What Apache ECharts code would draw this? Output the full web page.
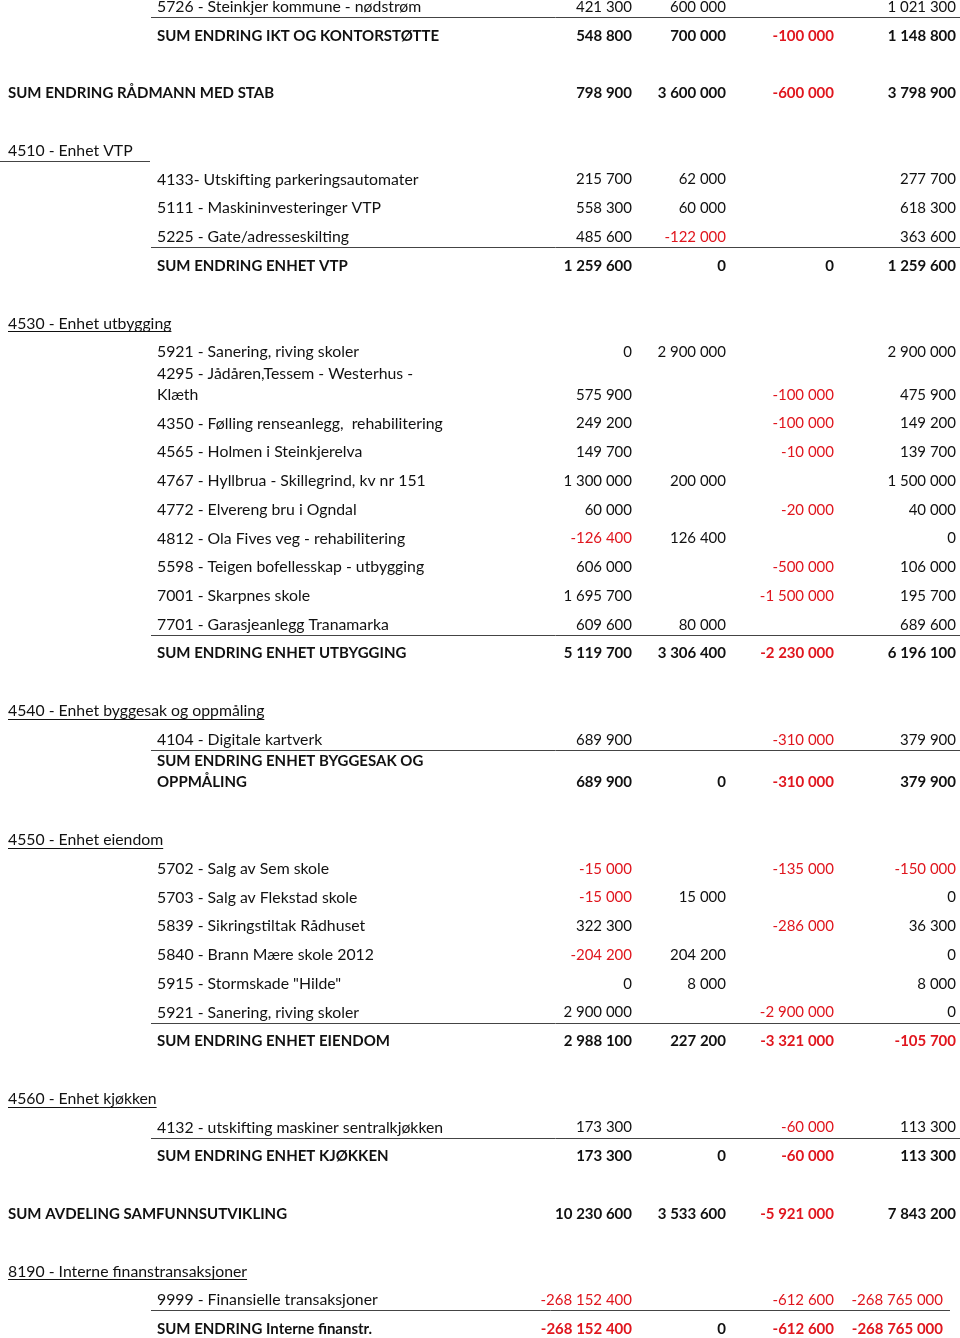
<!DOCTYPE html>
<html>
<head>
<meta charset="utf-8">
<title>Investeringer - endringer</title>
<script src="https://cdn.jsdelivr.net/npm/echarts@6/dist/echarts.min.js"></script>
<style>
  html, body { margin: 0; padding: 0; background: #fff; }
  #main { width: 960px; height: 1338px; }
</style>
</head>
<body>
<div id="main"></div>
<script>
// tabellrader, "" = tom rad
var rowLabels = [
  "5726 - Steinkjer kommune - nødstrøm",
  "SUM ENDRING IKT OG KONTORSTØTTE",
  "",
  "SUM ENDRING RÅDMANN MED STAB",
  "",
  "4510 - Enhet VTP",
  "4133- Utskifting parkeringsautomater",
  "5111 - Maskininvesteringer VTP",
  "5225 - Gate/adresseskilting",
  "SUM ENDRING ENHET VTP",
  "",
  "4530 - Enhet utbygging",
  "5921 - Sanering, riving skoler",
  "4295 - Jådåren,Tessem - Westerhus -\nKlæth",
  "4350 - Følling renseanlegg,  rehabilitering",
  "4565 - Holmen i Steinkjerelva",
  "4767 - Hyllbrua - Skillegrind, kv nr 151",
  "4772 - Elvereng bru i Ogndal",
  "4812 - Ola Fives veg - rehabilitering",
  "5598 - Teigen bofellesskap - utbygging",
  "7001 - Skarpnes skole",
  "7701 - Garasjeanlegg Tranamarka",
  "SUM ENDRING ENHET UTBYGGING",
  "",
  "4540 - Enhet byggesak og oppmåling",
  "4104 - Digitale kartverk",
  "SUM ENDRING ENHET BYGGESAK OG\nOPPMÅLING",
  "",
  "4550 - Enhet eiendom",
  "5702 - Salg av Sem skole",
  "5703 - Salg av Flekstad skole",
  "5839 - Sikringstiltak Rådhuset",
  "5840 - Brann Mære skole 2012",
  "5915 - Stormskade \"Hilde\"",
  "5921 - Sanering, riving skoler",
  "SUM ENDRING ENHET EIENDOM",
  "",
  "4560 - Enhet kjøkken",
  "4132 - utskifting maskiner sentralkjøkken",
  "SUM ENDRING ENHET KJØKKEN",
  "",
  "SUM AVDELING SAMFUNNSUTVIKLING",
  "",
  "8190 - Interne finanstransaksjoner",
  "9999 - Finansielle transaksjoner",
  "SUM ENDRING Interne finanstr."
];

// radtype: item, itemLine (strek under), sum, total, group, groupLine, blank
var rowKind = [
  "itemLine", "sum", "blank", "total", "blank",
  "groupLine", "item", "item", "itemLine", "sum", "blank",
  "group", "item", "item", "item", "item", "item", "item", "item", "item", "item", "itemLine", "sum", "blank",
  "group", "itemLine", "sum", "blank",
  "group", "item", "item", "item", "item", "item", "itemLine", "sum", "blank",
  "group", "itemLine", "sum", "blank",
  "total", "blank",
  "group", "itemLine", "sum"
];

var col1 = [
  421300, 548800, null, 798900, null,
  null, 215700, 558300, 485600, 1259600, null,
  null, 0, 575900, 249200, 149700, 1300000, 60000, -126400, 606000, 1695700, 609600, 5119700, null,
  null, 689900, 689900, null,
  null, -15000, -15000, 322300, -204200, 0, 2900000, 2988100, null,
  null, 173300, 173300, null,
  10230600, null,
  null, -268152400, -268152400
];

var col2 = [
  600000, 700000, null, 3600000, null,
  null, 62000, 60000, -122000, 0, null,
  null, 2900000, null, null, null, 200000, null, 126400, null, null, 80000, 3306400, null,
  null, null, 0, null,
  null, null, 15000, null, 204200, 8000, null, 227200, null,
  null, null, 0, null,
  3533600, null,
  null, null, 0
];

var col3 = [
  null, -100000, null, -600000, null,
  null, null, null, null, 0, null,
  null, null, -100000, -100000, -10000, null, -20000, null, -500000, -1500000, null, -2230000, null,
  null, -310000, -310000, null,
  null, -135000, null, -286000, null, null, -2900000, -3321000, null,
  null, -60000, -60000, null,
  -5921000, null,
  null, -612600, -612600
];

var col4 = [
  1021300, 1148800, null, 3798900, null,
  null, 277700, 618300, 363600, 1259600, null,
  null, 2900000, 475900, 149200, 139700, 1500000, 40000, 0, 106000, 195700, 689600, 6196100, null,
  null, 379900, 379900, null,
  null, -150000, 0, 36300, 0, 8000, 0, -105700, null,
  null, 113300, 113300, null,
  7843200, null,
  null, -268765000, -268765000
];

var columns = [col1, col2, col3, col4];
var colRight = [632, 726, 834, 956];

var FONT_FAMILY = "Lato, 'Liberation Sans', sans-serif";
var BLACK = "#111";
var RED = "#e0161e";
var RULE = "#444";
var LINE_H = 21;        // linjeavstand i en brutt celle
var WRAP_EXTRA = 0.48;  // ekstra radhøyde per ekstra linje (i rader)

// radposisjon: hver rad er 1 enhet, brutte rader litt høyere
var rowPos = [];
rowLabels.forEach(function (l, i) {
  var lines = l.split("\n").length;
  var prev = i === 0 ? -1 : rowPos[i - 1];
  rowPos.push(prev + 1 + (lines - 1) * WRAP_EXTRA);
});

var measureCtx = document.createElement("canvas").getContext("2d");
function textWidth(text, font) {
  measureCtx.font = font;
  return measureCtx.measureText(text).width;
}

function fmt(v) {
  if (v === null || v === undefined) return "";
  var s = String(Math.abs(v)).replace(/\B(?=(\d{3})+(?!\d))/g, " ");
  return (v < 0 ? "-" : "") + s;
}

function renderRow(params, api) {
  var i = params.dataIndex;
  var kind = rowKind[i];
  if (kind === "blank") return null;

  var y = api.coord([0, api.value(1)])[1];
  var bold = kind === "sum" || kind === "total";
  var labelFont = bold ? "bold 15px " + FONT_FAMILY : "15.8px " + FONT_FAMILY;
  var numFont = (bold ? "bold " : "") + "15px " + FONT_FAMILY;
  var outer = kind === "total" || kind === "group" || kind === "groupLine";
  var labelX = api.coord([outer ? 8 : 157, 0])[0];
  var lines = rowLabels[i].split("\n").length;
  // siste del av tabellen har smalere siste kolonne
  var shift = i >= 43 ? -13 : 0;

  var children = [];
  children.push({
    type: "text",
    style: {
      x: labelX,
      y: y - (lines - 1) * LINE_H / 2,
      text: rowLabels[i],
      font: labelFont,
      fill: BLACK,
      align: "left",
      verticalAlign: "middle",
      lineHeight: LINE_H
    }
  });

  columns.forEach(function (col, c) {
    var v = col[i];
    if (v === null) return;
    children.push({
      type: "text",
      style: {
        x: api.coord([colRight[c] + (c === 3 ? shift : 0), 0])[0],
        y: y,
        text: fmt(v),
        font: numFont,
        fill: v < 0 ? RED : BLACK,
        align: "right",
        verticalAlign: "middle"
      }
    });
  });

  var lineY = Math.round(y + 10) + 0.5;
  if (kind === "itemLine") {
    children.push({
      type: "line",
      shape: { x1: api.coord([151, 0])[0], y1: lineY, x2: api.coord([960 + (shift ? -10 : 0), 0])[0], y2: lineY },
      style: { stroke: RULE, lineWidth: 1 }
    });
  } else if (kind === "groupLine") {
    children.push({
      type: "line",
      shape: { x1: api.coord([0, 0])[0], y1: lineY, x2: api.coord([150, 0])[0], y2: lineY },
      style: { stroke: RULE, lineWidth: 1 }
    });
  } else if (kind === "group") {
    var uy = Math.round(y + 8) + 0.5;
    children.push({
      type: "line",
      shape: { x1: labelX, y1: uy, x2: labelX + textWidth(rowLabels[i], labelFont), y2: uy },
      style: { stroke: BLACK, lineWidth: 1 }
    });
  }

  return { type: "group", children: children };
}

var chartDom = document.getElementById("main");
var myChart = echarts.init(chartDom, null, { renderer: "canvas" });

var option = {
  animation: false,
  backgroundColor: "#fff",
  grid: { left: 0, right: 0, top: 7, bottom: 9 },
  xAxis: { type: "value", min: 0, max: 960, show: false },
  yAxis: {
    type: "value",
    inverse: true,
    min: 0,
    max: rowPos[rowPos.length - 1],
    show: false
  },
  series: [
    {
      type: "custom",
      silent: true,
      clip: false,
      renderItem: renderRow,
      encode: { x: 0, y: 1 },
      data: rowPos.map(function (p) { return [0, p]; })
    }
  ]
};

option && myChart.setOption(option);
</script>
</body>
</html>
